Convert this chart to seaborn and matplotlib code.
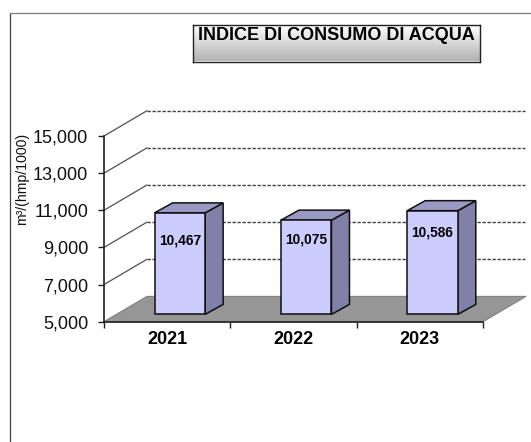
import numpy as np
import pandas as pd
import matplotlib
matplotlib.use("Agg")
import matplotlib.pyplot as plt
import seaborn as sns
from matplotlib.lines import Line2D
from matplotlib.patches import Polygon
from matplotlib.transforms import Affine2D, IdentityTransform

# values
years = ["2021", "2022", "2023"]
index_values = [10467, 10075, 10586]
y_ticks = [5000, 7000, 9000, 11000, 13000, 15000]
y_tick_labels = ["5,000", "7,000", "9,000", "11,000", "13,000", "15,000"]
value_labels = ["10,467", "10,075", "10,586"]
title = "INDICE DI CONSUMO DI ACQUA"
y_label = "m³/(hmp/1000)"

# layout, in pixels
W, H = 531, 442
DEPTH_X, DEPTH_Y = 43, 25.3
BAR_SHIFT_X, BAR_SHIFT_Y = 12.7, 7.3
BAR_DEPTH_X, BAR_DEPTH_Y = 18, 10
label_drop = [27.7, 19.3, 22.3]

sns.set_theme(style="white")
plt.rcParams["font.family"] = ["Liberation Sans", "DejaVu Sans"]

df = pd.DataFrame({"year": years, "value": index_values})

fig = plt.figure(figsize=(W / 100, H / 100), dpi=100, facecolor="white")
ax = fig.add_axes([104 / W, (H - 321.7) / H, 379 / W, 185.7 / H])
ax.patch.set_alpha(0)

sns.barplot(data=df, x="year", y="value", color="#CCCCFF", saturation=1, width=0.4,
            edgecolor="#101010", linewidth=1.1, zorder=4, ax=ax)
ax.set_xlim(-0.5, 2.5)
ax.set_ylim(y_ticks[0], y_ticks[-1])


def px(x, y, dx=0, dy=0):
    return ax.transData.transform((x, y)) + np.array([dx, dy])


def add_poly(points, color, edge, z, lw=1.0):
    ax.add_patch(Polygon(points, closed=True, facecolor=color, edgecolor=edge, linewidth=lw,
                         transform=IdentityTransform(), clip_on=False, zorder=z))


# floor
add_poly([px(-0.5, 5000), px(2.5, 5000), px(2.5, 5000, DEPTH_X, DEPTH_Y), px(-0.5, 5000, DEPTH_X, DEPTH_Y)],
         "#969696", "#808080", 2, 0.8)

# walls: slanted part and dashed part of each grid line
for t in y_ticks[1:]:
    start = px(-0.5, t)
    corner = px(-0.5, t, DEPTH_X, DEPTH_Y)
    end = px(2.5, t, DEPTH_X - 1, DEPTH_Y)
    ax.add_line(Line2D([start[0], corner[0]], [start[1], corner[1]], color="#505050", lw=0.9,
                       transform=IdentityTransform(), clip_on=False, zorder=1))
    ax.add_line(Line2D([corner[0], end[0]], [corner[1], end[1]], color="#404040", lw=1.0,
                       dashes=(2.4, 1.2), dash_capstyle="butt", transform=IdentityTransform(),
                       clip_on=False, zorder=1))

# bars get moved into the middle of the depth, then get side and top faces
shift = ax.transData + Affine2D().translate(BAR_SHIFT_X, BAR_SHIFT_Y)
for p, v, txt, drop in zip(ax.patches, index_values, value_labels, label_drop):
    p.set_y(y_ticks[0])
    p.set_height(v - y_ticks[0])
    p.set_transform(shift)
    p.set_clip_on(False)
    x0, x1 = p.get_x(), p.get_x() + p.get_width()
    base = y_ticks[0]
    sx, sy = BAR_SHIFT_X, BAR_SHIFT_Y
    dx, dy = BAR_DEPTH_X, BAR_DEPTH_Y
    add_poly([px(x1, base, sx, sy), px(x1, v, sx, sy), px(x1, v, sx + dx, sy + dy), px(x1, base, sx + dx, sy + dy)],
             "#8080A8", "#101010", 3, 1.1)
    add_poly([px(x0, v, sx, sy), px(x1, v, sx, sy), px(x1, v, sx + dx, sy + dy), px(x0, v, sx + dx, sy + dy)],
             "#9999C4", "#101010", 3, 1.1)
    cx, cy = px((x0 + x1) / 2, v, sx, sy - drop)
    ax.text(cx, cy, txt, transform=IdentityTransform(), ha="center", va="center",
            fontsize=9.9, fontweight="bold", color="black", zorder=5, clip_on=False)

# axes
ax.set_yticks(y_ticks, y_tick_labels)
ax.set_xticks([-0.5, 0.5, 1.5, 2.5], ["", "", "", ""])
ax.set_xticks([0, 1, 2], years, minor=True)
ax.tick_params(axis="x", which="major", length=4, width=1, color="#202020", bottom=True)
ax.tick_params(axis="x", which="minor", length=0, pad=6.5, labelsize=13, labelcolor="black", bottom=False)
for lab in ax.get_xticklabels(minor=True):
    lab.set_fontweight("bold")
ax.tick_params(axis="y", length=4, width=1, color="#202020", left=True, pad=7.3, labelsize=13, labelcolor="#111111")
ax.set_xlabel("")
ax.set_ylabel("")
sns.despine(ax=ax)
for side in ("left", "bottom"):
    ax.spines[side].set_color("#202020")
    ax.spines[side].set_linewidth(1.2)
    ax.spines[side].set_zorder(3)

fig.text(22.5 / W, (H - 179) / H, y_label, rotation=90, ha="center", va="center", fontsize=10.2, color="#111111")

# outer frame, open on the right and at the bottom
fig.add_artist(Line2D([9.5 / W, 9.5 / W], [0, (H - 12.5) / H], color="#404040", lw=0.9))
fig.add_artist(Line2D([9.5 / W, 1], [(H - 12.5) / H, (H - 12.5) / H], color="#808080", lw=0.9))

# title box with gradient
tax = fig.add_axes([192.5 / W, (H - 61.5) / H, 287 / W, 36.5 / H])
grad = np.linspace(1, 0.7, 64).reshape(-1, 1)
tax.imshow(grad, cmap="gray", vmin=0, vmax=1, aspect="auto", interpolation="bilinear")
tax.set_xticks([])
tax.set_yticks([])
for s in tax.spines.values():
    s.set_color("#202020")
    s.set_linewidth(1.0)
    s.set_visible(True)
tax.text(0.5, 0.71, title, transform=tax.transAxes, ha="center", va="center",
         fontsize=13, fontweight="bold", color="black")

fig.savefig("out.png", dpi=100)
